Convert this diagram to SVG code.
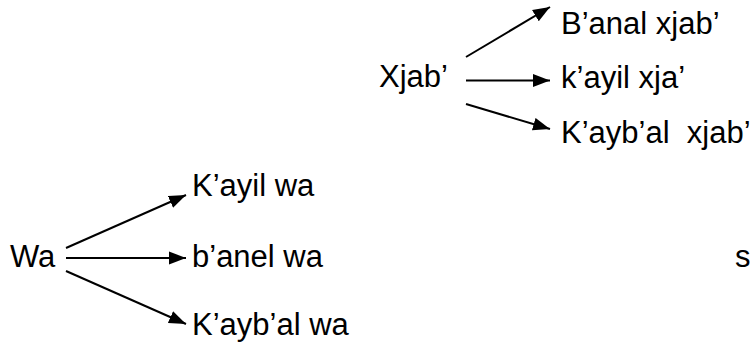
<svg xmlns="http://www.w3.org/2000/svg" width="752" height="347" viewBox="0 0 752 347">
<style>
text{font-family:"Liberation Sans",Arial,sans-serif;font-size:31px;fill:#000;white-space:pre}
.c line{stroke:#000;stroke-width:2;fill:none}
</style>
<defs>
<marker id="ah" markerUnits="userSpaceOnUse" markerWidth="18" markerHeight="14" viewBox="0 0 18 14" refX="17" refY="7" orient="auto">
<path d="M0,0.5 L17,7 L0,13.5 Z" fill="#000"/>
</marker>
</defs>
<rect width="752" height="347" fill="#fff"/>
<g class="c" id="connectors">
<line x1="466" y1="57" x2="550" y2="7" marker-end="url(#ah)"/>
<line x1="466" y1="80.5" x2="550" y2="80.5" marker-end="url(#ah)"/>
<line x1="466" y1="104" x2="550" y2="129" marker-end="url(#ah)"/>
<line x1="66" y1="248" x2="186" y2="195" marker-end="url(#ah)"/>
<line x1="66" y1="258" x2="186" y2="258" marker-end="url(#ah)"/>
<line x1="66" y1="271" x2="186" y2="324" marker-end="url(#ah)"/>
</g>
<g id="xjab"><text x="379" y="87">Xjab’</text></g>
<g id="banal-xjab"><text x="561" y="34">B’anal xjab’</text></g>
<g id="kayil-xja"><text x="561" y="88">k’ayil xja’</text></g>
<g id="kaybal-xjab"><text x="561" y="143" xml:space="preserve">K’ayb’al  xjab’</text></g>
<g id="wa"><text x="10" y="267">Wa</text></g>
<g id="kayil-wa"><text x="192" y="196">K’ayil wa</text></g>
<g id="banel-wa"><text x="192" y="267">b’anel wa</text></g>
<g id="kaybal-wa"><text x="192" y="335">K’ayb’al wa</text></g>
<g id="s"><text x="735" y="267">s</text></g>
</svg>
